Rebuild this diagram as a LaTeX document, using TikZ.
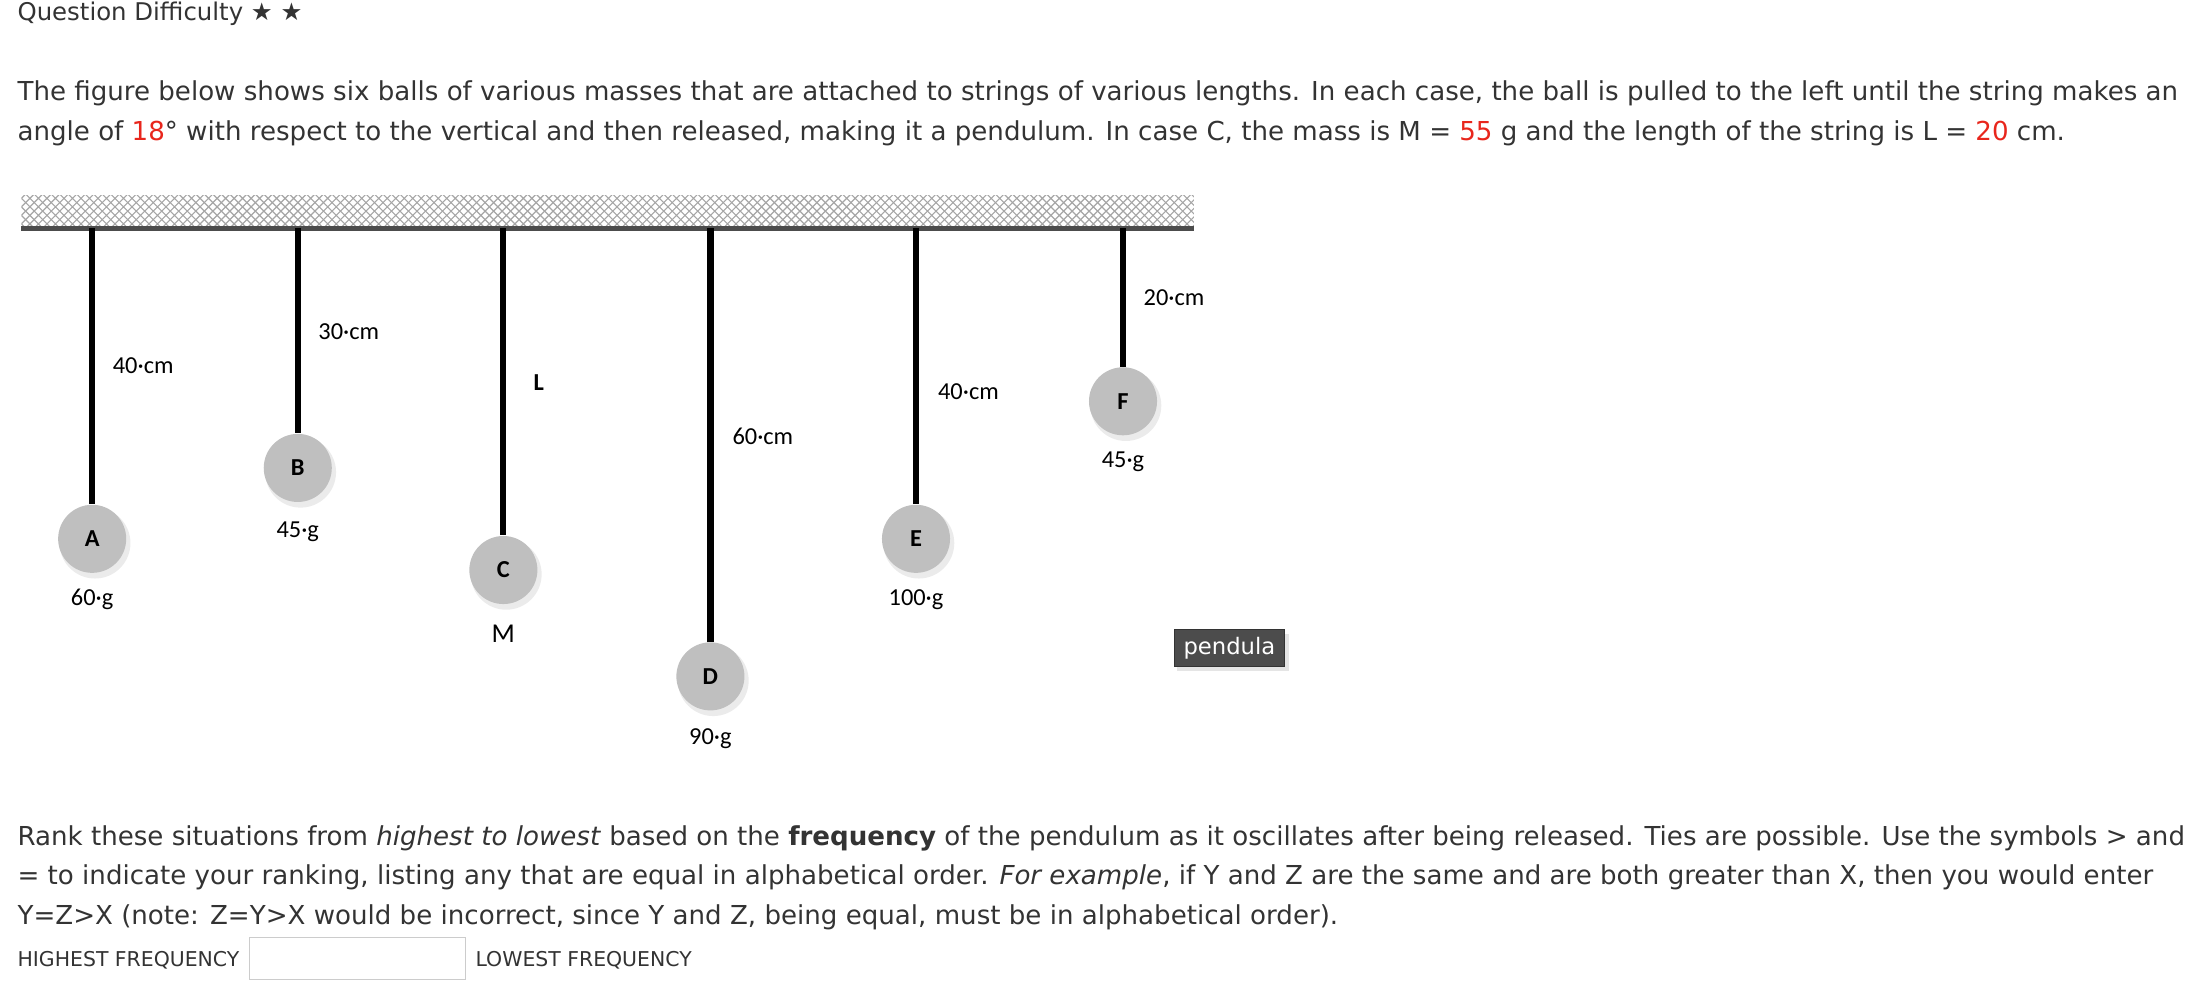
\documentclass[tikz,border=0pt]{standalone}
\usepackage{fontspec}
\setmainfont{DejaVu Sans}
\newfontfamily\carlfont{Carlito}
\newfontfamily\symfont{DejaVu Sans}
\usetikzlibrary{patterns}
\definecolor{txt}{HTML}{333333}
\definecolor{redn}{HTML}{E8261C}
\tikzset{
 body/.style={anchor=west,inner sep=0,text=txt,font=\fontsize{9.2}{11}\selectfont},
 lab/.style={inner sep=0,font=\carlfont\fontsize{8.6}{10}\selectfont},
 ball/.style={circle,minimum size=24pt,inner sep=0,fill=black!25,font=\carlfont\bfseries\fontsize{8.6}{10}\selectfont},
 str/.style={line width=2.2pt,black},
 small/.style={anchor=west,inner sep=0,text=txt,font=\fontsize{7.2}{9}\selectfont}
}
\begin{document}
\begin{tikzpicture}[x=0.5pt,y=-0.5pt]
\useasboundingbox (0,0) rectangle (1560,701);
\node[small,font=\fontsize{8.6}{10}\selectfont] (q) at (12,10) {Question Difficulty {\symfont ★ ★}};
\node[body] (p1) at (12,66) {The figure below shows six balls of various masses that are attached to strings of various lengths. In each case, the ball is pulled to the left until the string makes an};
\node[body] (p2) at (12,94) {angle of \textcolor{redn}{18}° with respect to the vertical and then released, making it a pendulum. In case C, the mass is M = \textcolor{redn}{55} g and the length of the string is L = \textcolor{redn}{20} cm.};
% ceiling
\fill[pattern=crosshatch,pattern color=black!35] (15,138) rectangle (842,160);
\draw[line width=1.6pt,black!70] (15,161) coordinate (cl) -- (842,161) coordinate (cr);
% balls
\foreach \n/\x/\y in {A/65/380,B/210/330,C/355/402,D/501/477,E/646/380,F/792/283}{
  \fill[black!8] (\x+2,\y+3) circle (25);
  \node[ball] (\n) at (\x,\y) {\n};
  \coordinate (t\n) at (\x,161);
  \draw[str] (t\n) -- (\n.north);
}
\node[lab] (lA) at (101,258) {40·cm};
\node[lab] (lB) at (246,234) {30·cm};
\node[lab,font=\carlfont\bfseries\fontsize{8.6}{10}\selectfont] (lC) at (380,270) {L};
\node[lab] (lD) at (538,308) {60·cm};
\node[lab] (lE) at (683,276) {40·cm};
\node[lab] (lF) at (828,210) {20·cm};
\node[lab] (mA) at (65,423) {60·g};
\node[lab] (mB) at (210,375) {45·g};
\node[lab,font=\carlfont\fontsize{9.6}{10}\selectfont] (mC) at (355,447) {M};
\node[lab] (mD) at (501,521) {90·g};
\node[lab] (mE) at (646,423) {100·g};
\node[lab] (mF) at (792,326) {45·g};
\fill[black!10] (830,447) rectangle (909,473);
\node[fill=black!70,draw=black!80,minimum width=39pt,minimum height=13pt,inner sep=0,text=white,font=\fontsize{8}{9}\selectfont] (pd) at (867,457) {pendula};
\node[body] (r1) at (12,591) {Rank these situations from \textit{highest to lowest} based on the \textbf{frequency} of the pendulum as it oscillates after being released. Ties are possible. Use the symbols > and};
\node[body] (r2) at (12,619) {= to indicate your ranking, listing any that are equal in alphabetical order. \textit{For example}, if Y and Z are the same and are both greater than X, then you would enter};
\node[body] (r3) at (12,647) {Y=Z>X (note: Z=Y>X would be incorrect, since Y and Z, being equal, must be in alphabetical order).};
\node[small] (hi) at (12,677) {HIGHEST FREQUENCY};
\draw[black!20] (176,661) rectangle (328,691);
\node[small] (lo) at (335,677) {LOWEST FREQUENCY};
\end{tikzpicture}
\end{document}
